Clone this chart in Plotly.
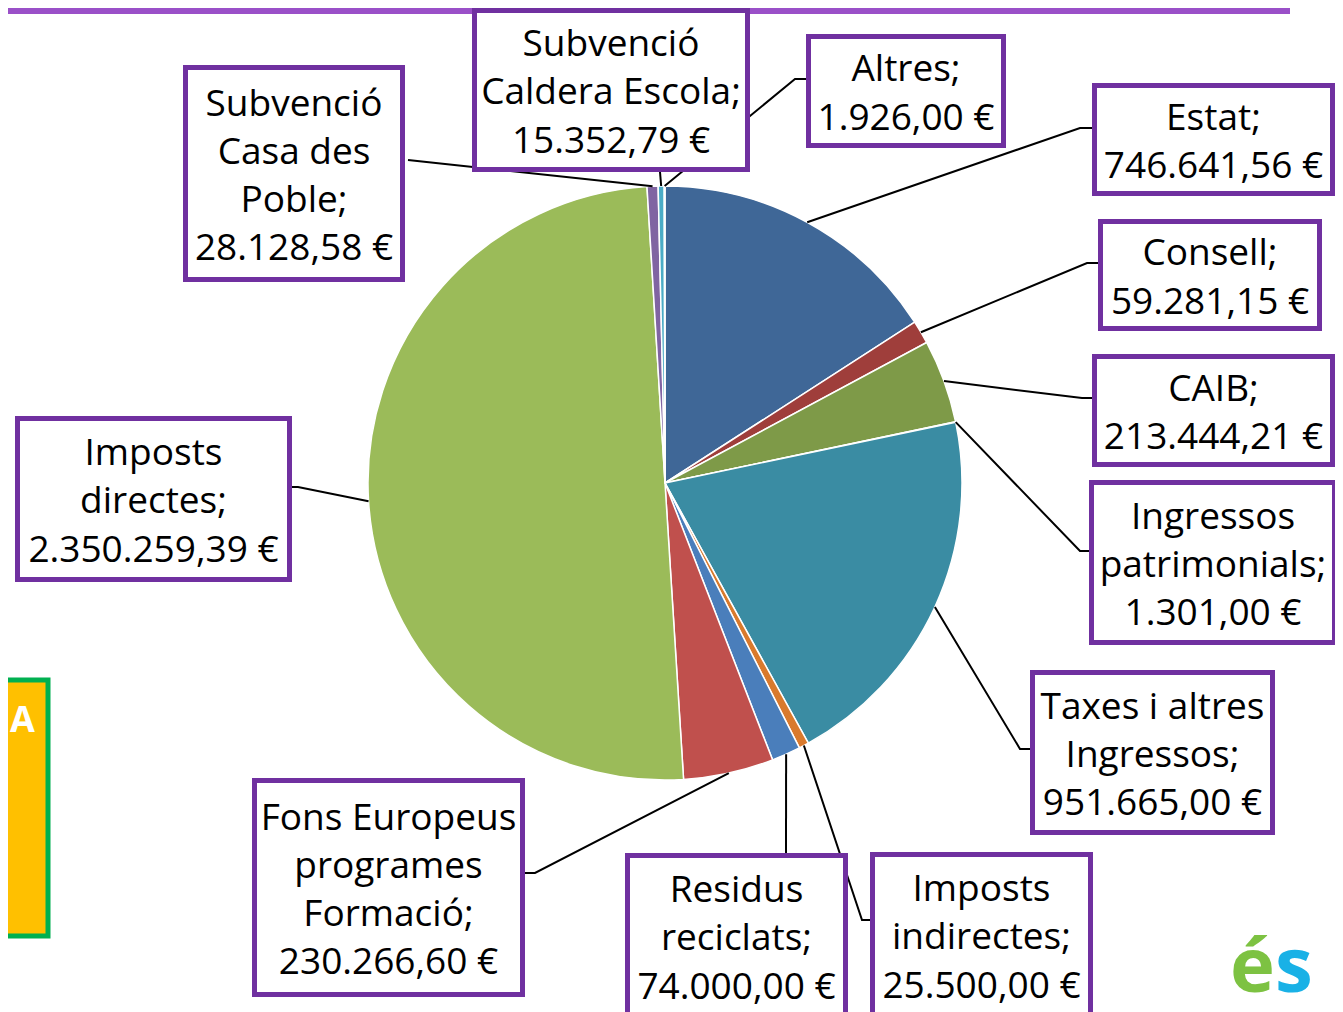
import math
import plotly.graph_objects as go

# Dades del gràfic (ingressos)
categories = [
    "Estat", "Consell", "CAIB", "Ingressos<br>patrimonials",
    "Taxes i altres<br>Ingressos", "Imposts<br>indirectes", "Residus<br>reciclats",
    "Fons Europeus<br>programes<br>Formació", "Imposts<br>directes",
    "Subvenció<br>Casa des<br>Poble", "Subvenció<br>Caldera Escola", "Altres",
]
values = [
    746641.56, 59281.15, 213444.21, 1301.00,
    951665.00, 25500.00, 74000.00,
    230266.60, 2350259.39,
    28128.58, 15352.79, 1926.00,
]
colors = [
    "#3f6797", "#9f3e3b", "#7e9a48", "#664f84",
    "#3a8ca3", "#d97a2d", "#4a7ebb",
    "#c0504d", "#9bbb59",
    "#8064a2", "#4bacc6", "#f79646",
]

W, H = 1343, 1012
OFF = 8  # marge del body de la pàgina
CX, CY, R = 665, 483, 297  # centre i radi del pastís (px de pàgina)

# caixes d'etiqueta: centre x, centre y, amplada, alçada (px)
boxes = [
    (1213.5, 139.5, 243, 113), (1210, 275, 224, 112), (1213.5, 410.5, 243, 113),
    (1213, 562.5, 248, 165), (1152.5, 752.5, 245, 165), (981.5, 935, 223, 166),
    (736.5, 936, 223, 166), (388.5, 887.5, 273, 219), (153.5, 499, 277, 166),
    (294, 173.5, 222, 217), (611, 90, 278, 164), (906, 91, 200, 114),
]
# punts de colze i final de cada línia guia (px)
leaders = [
    [(1080, 128), (1092, 128)], [(1087, 263), (1098, 263)], [(1082, 398), (1092, 398)],
    [(1080, 551), (1089, 551)], [(1020, 749), (1030, 749)], [(862, 920), (870, 920)],
    [(786, 853)], [(535, 873), (525, 873)], [(298, 487), (292, 487)],
    [(408, 160)], [(660, 172)], [(795, 79), (806, 79)],
]


def eur(v):
    s = f"{v:,.2f}".replace(",", "X").replace(".", ",").replace("X", ".")
    return s + " €"


def px(x):
    return (x - OFF) / W


def py(y):
    return 1 - (y - OFF) / H


fig = go.Figure()

fig.add_trace(go.Pie(
    labels=categories,
    values=values,
    sort=False,
    direction="clockwise",
    rotation=0,
    textinfo="none",
    marker=dict(colors=colors, line=dict(color="white", width=1.5)),
    domain=dict(x=[px(CX - R), px(CX + R)], y=[py(CY + R), py(CY - R)]),
    showlegend=False,
))

shapes = []
annotations = []

# barra superior
shapes.append(dict(type="rect", xref="paper", yref="paper",
                   x0=0, x1=px(1290), y0=py(14), y1=1.01,
                   fillcolor="#9a50c8", line=dict(width=0), layer="below"))
# caixa groga de l'esquerra
shapes.append(dict(type="rect", xref="paper", yref="paper",
                   x0=px(-10), x1=px(48), y0=py(936), y1=py(680),
                   fillcolor="#ffc000", line=dict(color="#00b050", width=5)))
annotations.append(dict(xref="paper", yref="paper", x=0, y=py(718),
                        xanchor="left", yanchor="middle", showarrow=False,
                        text="<b>A</b>", font=dict(family="Open Sans", size=36, color="white")))

total = sum(values)
cum = 0
for i, v in enumerate(values):
    ang = (cum + v / 2) / total * 2 * math.pi
    cum += v
    ex = CX + R * math.sin(ang)
    ey = CY - R * math.cos(ang)
    pts = [(ex, ey)] + leaders[i]
    path = "M " + " L ".join(f"{px(a):.5f} {py(b):.5f}" for a, b in pts)
    shapes.append(dict(type="path", xref="paper", yref="paper", path=path,
                       line=dict(color="black", width=2)))

    bx, by, bw, bh = boxes[i]
    annotations.append(dict(
        xref="paper", yref="paper", x=px(bx), y=py(by),
        xanchor="center", yanchor="middle", showarrow=False,
        text=f"{categories[i]};<br>{eur(v)}",
        font=dict(family="Open Sans", size=37, color="black"),
        align="center", bgcolor="white",
        bordercolor="#7030a0", borderwidth=5, borderpad=0,
        width=bw - 10, height=bh - 10,
    ))

# logotip a baix a la dreta
annotations.append(dict(
    xref="paper", yref="paper", x=px(1228), y=py(1016),
    xanchor="left", yanchor="bottom", showarrow=False,
    text="<b><span style='color:#7dc242'>é</span><span style='color:#19b1e6'>s</span></b>",
    font=dict(family="Open Sans", size=76),
))

fig.update_layout(
    width=W, height=H, autosize=False,
    margin=dict(l=0, r=0, t=0, b=0),
    paper_bgcolor="white", plot_bgcolor="white",
    shapes=shapes, annotations=annotations,
)

fig.write_html("out.html")
